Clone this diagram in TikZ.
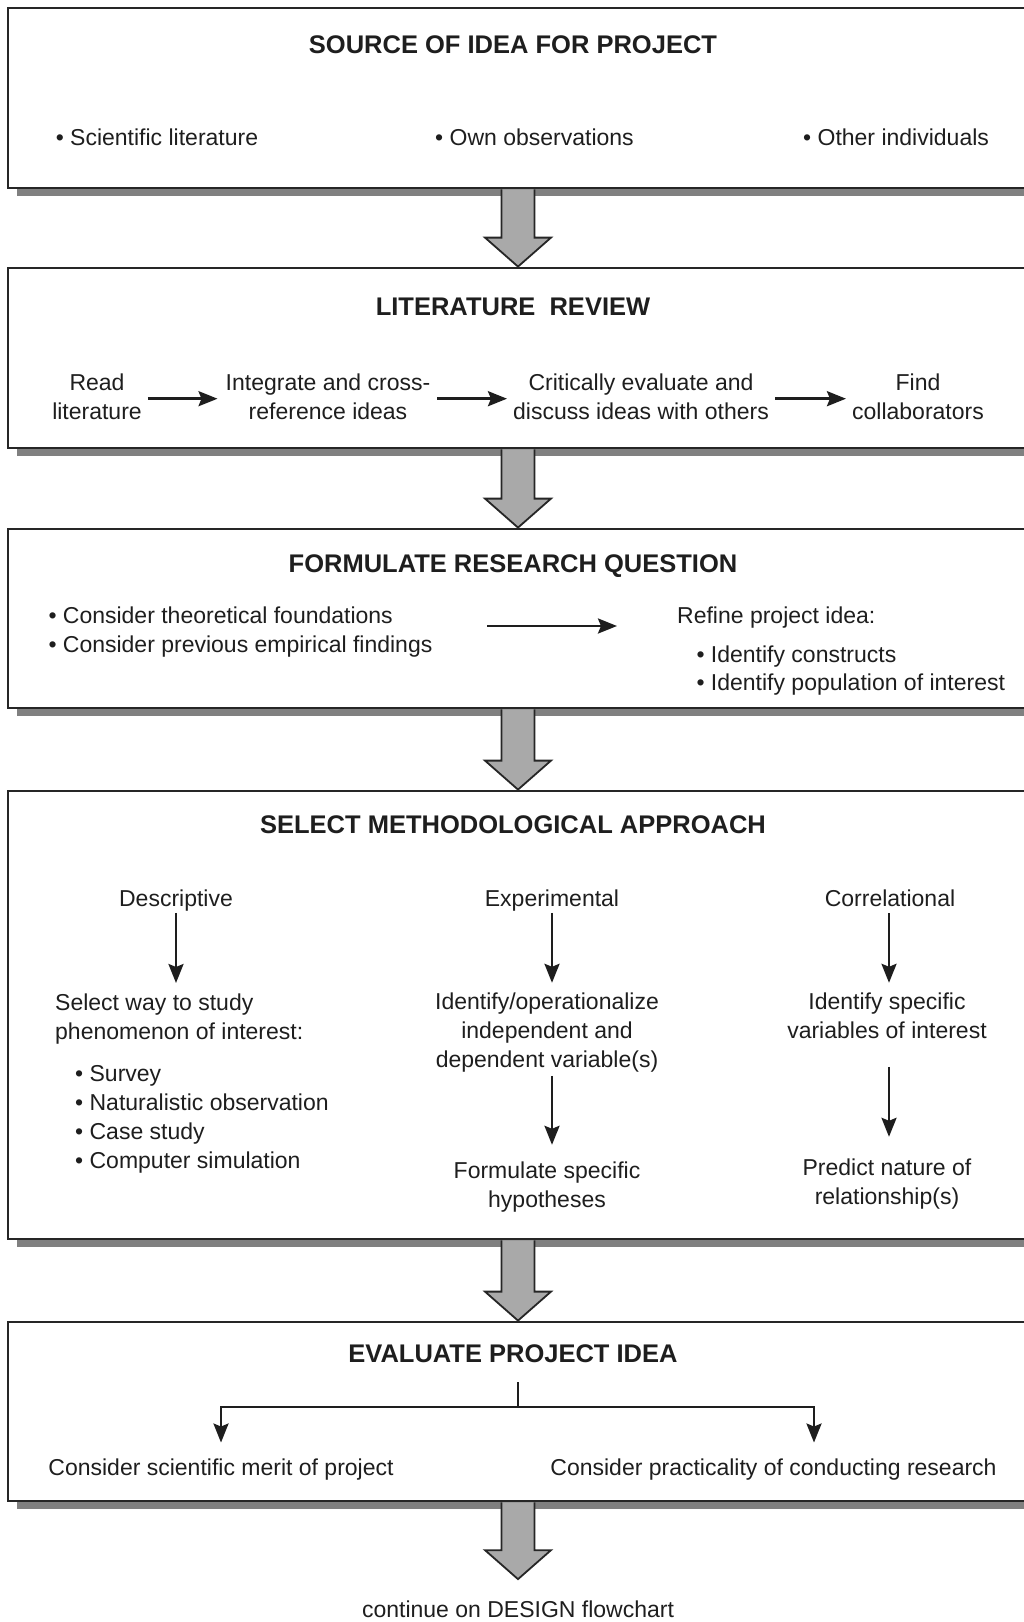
\documentclass[tikz,border=0pt]{standalone}
\usepackage{fontspec}
\setmainfont{Liberation Sans}
\usetikzlibrary{arrows.meta,shadows,calc}

\definecolor{ink}{HTML}{1E1E1E}
\definecolor{frame}{HTML}{262626}
\definecolor{shade}{HTML}{808080}
\definecolor{bigfill}{HTML}{A9A9A9}

% multi-line cells whose baseline is the first line
\newcommand{\colC}[1]{\begin{tabular}[t]{@{}c@{}}#1\end{tabular}}
\newcommand{\colL}[1]{\begin{tabular}[t]{@{}l@{}}#1\end{tabular}}

% wide grey block arrow: #1 start of shaft, #2 tip
\newcommand{\bigdown}[2]{%
  \draw[bigarrow] ($(#1)+(-16.5,0)$) -- ($(#2)+(-16.5,-29)$) -- ($(#2)+(-33,-29)$)
    -- (#2) -- ($(#2)+(33,-29)$) -- ($(#2)+(16.5,-29)$) -- ($(#1)+(16.5,0)$);}

\tikzset{
  panel/.style={draw=frame, line width=2.8pt, fill=white, minimum width=1020pt,
    inner sep=0pt,
    drop shadow={shadow xshift=9pt, shadow yshift=-8pt, fill=shade, opacity=1, draw=none}},
  head/.style={font=\fontsize{25.5}{30}\selectfont\bfseries, text=ink, inner sep=0pt, anchor=base},
  body/.style={font=\fontsize{23}{29}\selectfont, text=ink, inner sep=0pt, anchor=base},
  arr/.style={draw=ink, line width=2.6pt, -{Stealth[length=19pt,width=15pt,inset=3pt]}},
  link/.style={draw=ink, line width=2.6pt},
  bigarrow/.style={draw=frame, line width=1.8pt, fill=bigfill, line join=miter},
}

\begin{document}
\begin{tikzpicture}[x=1pt, y=-1pt]
\useasboundingbox (0,0) rectangle (1024,1622);
\clip (0,0) rectangle (1024,1622);

% ---------- panels ----------
\node[panel, minimum height=180pt] (b1) at (518,98) {};
\node[panel, minimum height=180pt] (b2) at (518,358) {};
\node[panel, minimum height=179pt] (b3) at (518,618.5) {};
\node[panel, minimum height=448pt] (b4) at (518,1015) {};
\node[panel, minimum height=179pt] (b5) at (518,1411.5) {};

% ---------- source of idea ----------
\node[head] (t1) at (513,53) {SOURCE OF IDEA FOR PROJECT};
\node[body, anchor=base west] (s1) at (55.6,145) {\textbullet\ Scientific literature};
\node[body, anchor=base west] (s2) at (435,145) {\textbullet\ Own observations};
\node[body, anchor=base west] (s3) at (803,145) {\textbullet\ Other individuals};

% ---------- literature review ----------
\node[head] (t2) at (513,315) {LITERATURE~~REVIEW};
\node[body] (r1) at (97,390) {\colC{Read\\literature}};
\node[body] (r2) at (328,390) {\colC{Integrate and cross-\\reference ideas}};
\node[body] (r3) at (641,390) {\colC{Critically evaluate and\\discuss ideas with others}};
\node[body] (r4) at (918,390) {\colC{Find\\collaborators}};
\draw[arr, shorten <=6pt, shorten >=8pt] (r1.east) -- (r1.east -| r2.west);
\draw[arr, shorten <=7pt, shorten >=6pt] (r2.east |- r1.east) -- (r1.east -| r3.west);
\draw[arr, shorten <=6pt, shorten >=6pt] (r3.east |- r1.east) -- (r1.east -| r4.west);

% ---------- research question ----------
\node[head] (t3) at (513,572) {FORMULATE RESEARCH QUESTION};
\node[body, anchor=base west] (q1) at (48.3,623)
  {\colL{\textbullet\ Consider theoretical foundations\\\textbullet\ Consider previous empirical findings}};
\node[body, anchor=base west] (q2) at (677,623) {Refine project idea:};
\node[body, anchor=base west] (q3) at (696.3,662)
  {\colL{\textbullet\ Identify constructs\\[-1pt]\textbullet\ Identify population of interest}};
\coordinate (qa) at (487,626);
\coordinate (qb) at (617,626);
\draw[arr] (qa) -- (qb);

% ---------- methodological approach ----------
\node[head] (t4) at (513,833) {SELECT METHODOLOGICAL APPROACH};

\node[body] (d0) at (176,906) {Descriptive};
\node[body, anchor=base west] (d1) at (55,1010) {\colL{Select way to study\\phenomenon of interest:}};
\node[body, anchor=base west] (d2) at (75,1081)
  {\colL{\textbullet\ Survey\\\textbullet\ Naturalistic observation\\\textbullet\ Case study\\\textbullet\ Computer simulation}};
\draw[arr, shorten <=2pt, shorten >=6.5pt] (d0.south) -- (d0.south |- d1.north);

\node[body] (e0) at (552,906) {Experimental};
\node[body] (e1) at (547,1009) {\colC{Identify/operationalize\\independent and\\dependent variable(s)}};
\node[body] (e2) at (547,1178) {\colC{Formulate specific\\hypotheses}};
\draw[arr, shorten <=2pt, shorten >=5.7pt] (e0.south) -- (e0.south |- e1.north);
\draw[arr, shorten >=12.7pt] (e0.south |- e1.south) -- (e0.south |- e2.north);

\node[body] (c0) at (890,906) {Correlational};
\node[body] (c1) at (887,1009) {\colC{Identify specific\\variables of interest}};
\node[body] (c2) at (887,1175) {\colC{Predict nature of\\relationship(s)}};
\draw[arr, shorten <=7pt, shorten >=5.7pt] ([xshift=-1pt]c0.south) -- ([xshift=-1pt]c0.south |- c1.north);
\draw[arr, shorten <=20pt, shorten >=17.7pt] ([xshift=-1pt]c0.south |- c1.south) -- ([xshift=-1pt]c0.south |- c2.north);

% ---------- evaluate project idea ----------
\node[head] (t5) at (513,1362) {EVALUATE PROJECT IDEA};
\node[body] (m1) at (221,1475) {Consider scientific merit of project};
\node[body] (m2) at (773.5,1475) {Consider practicality of conducting research};
\coordinate (stem) at (518,1382);
\coordinate (split) at (518,1407);
\draw[link] (stem) -- (split);
\draw[arr, shorten >=15.6pt] (split) -| (m1.north);
\draw[arr, shorten >=15.6pt] (split) -| ($(m2.north)+(40.5,0)$);

% ---------- continuation ----------
\node[body] (cont) at (518,1617) {continue on DESIGN flowchart};
\coordinate (contTip) at ($(cont.north)+(0,-21)$);

% ---------- block arrows between panels ----------
\bigdown{b1.south}{b2.north}
\bigdown{b2.south}{b3.north}
\bigdown{b3.south}{b4.north}
\bigdown{b4.south}{b5.north}
\bigdown{b5.south}{contTip}
\end{tikzpicture}
\end{document}
